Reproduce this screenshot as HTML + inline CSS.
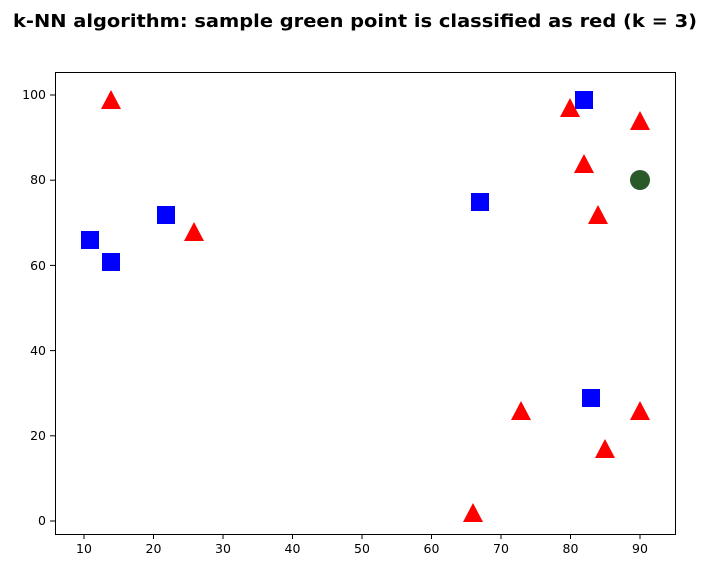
<!DOCTYPE html>
<html><head><style>body{margin:0;background:#fff}svg{display:block}</style></head><body>
<svg width="711" height="578" xmlns="http://www.w3.org/2000/svg" font-family="DejaVu Sans, Liberation Sans, sans-serif">
<rect width="711" height="578" fill="#fff"/>
<text x="355" y="27" text-anchor="middle" font-size="18" font-weight="bold" textLength="684" lengthAdjust="spacingAndGlyphs">k-NN algorithm: sample green point is classified as red (k = 3)</text>
<rect x="55.5" y="72.5" width="620" height="462" fill="none" stroke="#000" stroke-width="1"/>
<g stroke="#000" stroke-width="1">
<line x1="84" y1="534" x2="84" y2="539"/><line x1="153.5" y1="534" x2="153.5" y2="539"/><line x1="223" y1="534" x2="223" y2="539"/><line x1="292.5" y1="534" x2="292.5" y2="539"/><line x1="362" y1="534" x2="362" y2="539"/><line x1="431.5" y1="534" x2="431.5" y2="539"/><line x1="501" y1="534" x2="501" y2="539"/><line x1="570.5" y1="534" x2="570.5" y2="539"/><line x1="640" y1="534" x2="640" y2="539"/>
<line x1="50" y1="521" x2="55" y2="521"/><line x1="50" y1="435.8" x2="55" y2="435.8"/><line x1="50" y1="350.6" x2="55" y2="350.6"/><line x1="50" y1="265.4" x2="55" y2="265.4"/><line x1="50" y1="180.2" x2="55" y2="180.2"/><line x1="50" y1="95" x2="55" y2="95"/>
</g>
<g font-size="12.5" text-anchor="middle">
<text x="84" y="553">10</text><text x="153.5" y="553">20</text><text x="223" y="553">30</text><text x="292.5" y="553">40</text><text x="362" y="553">50</text><text x="431.5" y="553">60</text><text x="501" y="553">70</text><text x="570.5" y="553">80</text><text x="640" y="553">90</text>
</g>
<g font-size="12.5" text-anchor="end">
<text x="46" y="525">0</text><text x="46" y="440">20</text><text x="46" y="355">40</text><text x="46" y="270">60</text><text x="46" y="184">80</text><text x="46" y="99">100</text>
</g>
<g fill="#0000ff">
<rect x="81" y="231" width="18" height="18"/><rect x="102" y="253" width="18" height="18"/><rect x="157" y="206" width="18" height="18"/><rect x="471" y="193" width="18" height="18"/><rect x="575" y="91" width="18" height="18"/><rect x="582" y="389" width="18" height="18"/>
</g>
<g fill="#ff0000">
<polygon points="111,90 101,109 121,109"/><polygon points="194,222 184,241 204,241"/><polygon points="570,98 560,117 580,117"/><polygon points="584,154 574,173 594,173"/><polygon points="598,205 588,224 608,224"/><polygon points="640,111 630,130 650,130"/><polygon points="640,401 630,420 650,420"/><polygon points="521,401 511,420 531,420"/><polygon points="605,439 595,458 615,458"/><polygon points="473,503 463,522 483,522"/>
</g>
<circle cx="640" cy="180" r="10" fill="#2a5a2a"/>
</svg>
</body></html>
